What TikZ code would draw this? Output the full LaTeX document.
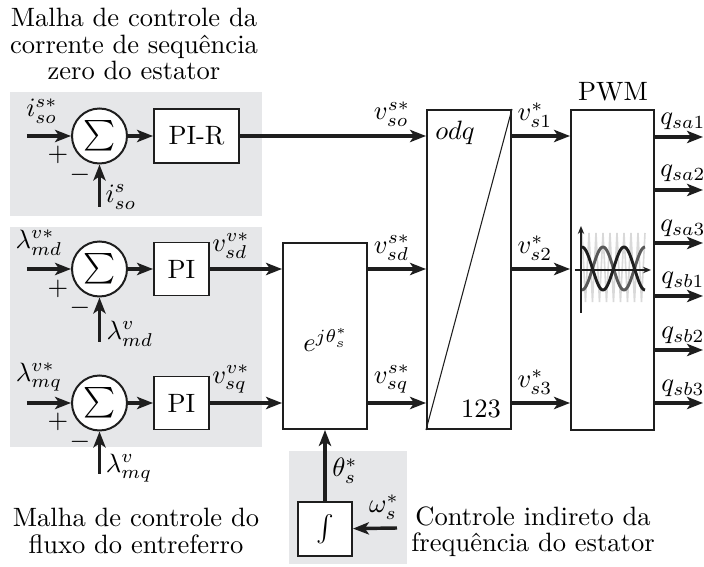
\documentclass[tikz,border=0pt]{standalone}
\usepackage{graphicx}
\usetikzlibrary{arrows.meta}
\def\pxu{0.377pt}
\definecolor{panel}{RGB}{230,231,233}
\definecolor{ink}{RGB}{30,30,30}
\begin{document}
\begin{tikzpicture}[x=0.377pt,y=-0.377pt,
  arr/.style={draw=ink, line width=1.3pt, -{Stealth[length=6pt,width=4.6pt,inset=1.5pt]}},
  blk/.style={draw=ink, line width=0.75pt, fill=white, inner sep=0pt},
  sumc/.style={draw=ink, line width=0.75pt, fill=white, circle, inner sep=0pt, minimum size=55*\pxu},
  lbl/.style={inner sep=0pt},
  txt/.style={inner sep=0pt, align=center, font=\fontsize{10}{9.9}\selectfont}
]
\useasboundingbox (0,0) rectangle (704,567);
% panels
\fill[panel] (10,92) rectangle (262,216);
\fill[panel] (10,227) rectangle (262,447);
\fill[panel] (289,451) rectangle (407,564);

% blocks
\node[sumc] (sum1) at (99.5,136) {\scalebox{1.15}{$\sum$}};
\node[sumc] (sum2) at (99.5,269) {\scalebox{1.15}{$\sum$}};
\node[sumc] (sum3) at (99.5,403) {\scalebox{1.15}{$\sum$}};
\node[blk, minimum width=85*\pxu, minimum height=54*\pxu] (pir) at (196.5,136) {PI-R};
\node[blk, minimum width=55*\pxu, minimum height=53*\pxu] (pi1) at (181.5,269) {PI};
\node[blk, minimum width=55*\pxu, minimum height=53*\pxu] (pi2) at (181.5,403) {PI};
\node[blk, minimum width=84*\pxu, minimum height=186*\pxu] (ebox) at (325,336) {};
\node[blk, minimum width=84*\pxu, minimum height=319*\pxu] (odq) at (469,269.5) {};
\node[blk, minimum width=83*\pxu, minimum height=320*\pxu] (pwm) at (612.5,270) {};
\node[blk, minimum width=54*\pxu, minimum height=54*\pxu] (intb) at (325,529) {$\int$};

\draw[ink, line width=0.4pt] (odq.south west) -- (odq.north east);
\node[lbl] (lodq) at (455,133) {$odq$};
\node[lbl] (l123) at (481,409) {$123$};
\node[lbl] (lexp) at (326,340) {$e^{j\theta_s^*}$};
\node[lbl] (lpwm) at (613,92) {PWM};

% PWM icon
\draw[gray!30, line width=0.6pt] (582,233) \foreach \k in {0,...,8} { -- ({585.5+7*\k},302) -- ({589+7*\k},233) };
\draw[gray!70!black, line width=1.1pt] plot[domain=0:63, samples=60, smooth] ({582+\x}, {268.5 + 21.5*cos(\x/42*360)});
\draw[ink, line width=1.1pt] plot[domain=0:63, samples=60, smooth] ({582+\x}, {268.5 - 21.5*cos(\x/42*360)});
\draw[ink, line width=0.8pt, -{Stealth[length=3pt,width=2.4pt]}] (581,313) -- (581,226);
\draw[ink, line width=0.8pt, -{Stealth[length=3pt,width=2.4pt]}] (575,270) -- (651,270);

% coordinates
\coordinate (in1) at (27,136);
\coordinate (in2) at (27,269);
\coordinate (in3) at (27,403);
\coordinate (fb1) at (99.5,207);
\coordinate (fb2) at (99.5,342);
\coordinate (fb3) at (99.5,474);
\coordinate (wsin) at (397,528);
\coordinate (q1) at (703,137);
\coordinate (q2) at (703,190);
\coordinate (q3) at (703,243);
\coordinate (q4) at (703,296);
\coordinate (q5) at (703,350);
\coordinate (q6) at (703,403);

% connectors
\draw[arr] (in1) -- (sum1);
\draw[arr] (in2) -- (sum2);
\draw[arr] (in3) -- (sum3);
\draw[arr] (fb1) -- (sum1);
\draw[arr] (fb2) -- (sum2);
\draw[arr] (fb3) -- (sum3);
\draw[arr] (sum1) -- (pir);
\draw[arr] (sum2) -- (pi1);
\draw[arr] (sum3) -- (pi2);
\draw[arr] (pir) -- (pir -| odq.west);
\draw[arr] (pi1) -- (pi1 -| ebox.west);
\draw[arr] (pi2) -- (pi2 -| ebox.west);
\draw[arr] (ebox.east |- pi1) -- (odq.west |- pi1);
\draw[arr] (ebox.east |- pi2) -- (odq.west |- pi2);
\draw[arr] (odq.east |- pir) -- (pwm.west |- pir);
\draw[arr] (odq.east |- pi1) -- (pwm.west |- pi1);
\draw[arr] (odq.east |- pi2) -- (pwm.west |- pi2);
\foreach \q in {q1,q2,q3,q4,q5,q6} { \draw[arr] (pwm.east |- \q) -- (\q); }
\draw[arr] (intb) -- (ebox);
\draw[arr] (wsin) -- (intb);

% labels
\node[lbl] at (42,111) {$i_{so}^{s*}$};
\node[lbl] at (58,155) {$+$};
\node[lbl] at (80,175) {$-$};
\node[lbl] at (121,197) {$i_{so}^{s}$};
\node[lbl] at (39,243) {$\lambda_{md}^{v*}$};
\node[lbl] at (58,289) {$+$};
\node[lbl] at (80,308) {$-$};
\node[lbl] at (130,334) {$\lambda_{md}^{v}$};
\node[lbl] at (231,246) {$v_{sd}^{v*}$};
\node[lbl] at (39,377) {$\lambda_{mq}^{v*}$};
\node[lbl] at (58,422) {$+$};
\node[lbl] at (80,442) {$-$};
\node[lbl] at (129,468) {$\lambda_{mq}^{v}$};
\node[lbl] at (231,379) {$v_{sq}^{v*}$};
\node[lbl] at (392,114) {$v_{so}^{s*}$};
\node[lbl] at (392,248) {$v_{sd}^{s*}$};
\node[lbl] at (392,379) {$v_{sq}^{s*}$};
\node[lbl] at (535,115) {$v_{s1}^{*}$};
\node[lbl] at (535,248) {$v_{s2}^{*}$};
\node[lbl] at (535,382) {$v_{s3}^{*}$};
\node[lbl] at (683,121) {$q_{sa1}$};
\node[lbl] at (683,173) {$q_{sa2}$};
\node[lbl] at (683,228) {$q_{sa3}$};
\node[lbl] at (683,280) {$q_{sb1}$};
\node[lbl] at (683,335) {$q_{sb2}$};
\node[lbl] at (683,388) {$q_{sb3}$};
\node[lbl] at (345,471) {$\theta_s^*$};
\node[lbl] at (384,507) {$\omega_s^*$};

% texts
\node[txt, anchor=north] at (134,8) {Malha de controle da\\corrente de sequência\\zero do estator};
\node[txt, anchor=north] at (136,508) {Malha de controle do\\fluxo do entreferro};
\node[txt, anchor=north] at (533,506) {Controle indireto da\\frequência do estator};
\end{tikzpicture}
\end{document}
